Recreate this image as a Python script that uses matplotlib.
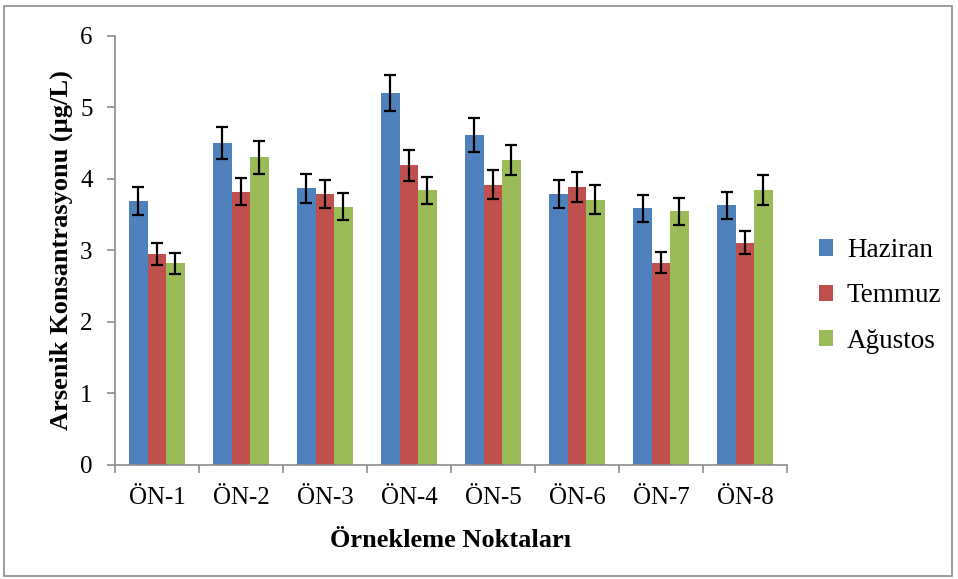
import numpy as np
import matplotlib.pyplot as plt
from matplotlib.patches import Rectangle

# Data
stations = ["ÖN-1", "ÖN-2", "ÖN-3", "ÖN-4", "ÖN-5", "ÖN-6", "ÖN-7", "ÖN-8"]
haziran = [3.69, 4.50, 3.87, 5.20, 4.61, 3.79, 3.59, 3.63]
temmuz = [2.95, 3.82, 3.79, 4.19, 3.92, 3.89, 2.83, 3.11]
agustos = [2.82, 4.30, 3.61, 3.84, 4.26, 3.71, 3.55, 3.84]
haziran_err = [0.19, 0.22, 0.20, 0.25, 0.24, 0.20, 0.19, 0.19]
temmuz_err = [0.15, 0.19, 0.20, 0.22, 0.20, 0.21, 0.15, 0.16]
agustos_err = [0.15, 0.23, 0.19, 0.19, 0.21, 0.20, 0.19, 0.21]

plt.rcParams['font.family'] = ['Liberation Serif', 'DejaVu Serif']

fig = plt.figure(figsize=(9.58, 5.79), dpi=100)
fig.patches.append(Rectangle((0.004, 0.005), 0.99, 0.985, transform=fig.transFigure,
                             fill=False, edgecolor="#8c8c8c", linewidth=1.2))
ax = fig.add_axes([0.12, 0.197, 0.7015, 0.741])

x = np.arange(len(stations))
w = 0.22
series = [
    (haziran, haziran_err, "#4F81BD", "Haziran"),
    (temmuz, temmuz_err, "#C0504D", "Temmuz"),
    (agustos, agustos_err, "#9BBB59", "Ağustos"),
]
for i, (vals, errs, col, name) in enumerate(series):
    ax.bar(x + (i - 1) * w, vals, w, color=col, label=name,
           yerr=errs, capsize=4.5, error_kw=dict(ecolor="black", elinewidth=1.6, capthick=1.6))

ax.set_xlim(-0.5, len(stations) - 0.5)
ax.set_ylim(0, 6)
ax.set_yticks(range(0, 7))
ax.set_xticks(np.arange(-0.5, len(stations), 1.0))
ax.set_xticklabels([])
ax.set_xticks(x, minor=True)
ax.set_xticklabels(stations, minor=True)
ax.tick_params(axis="x", which="major", length=6, width=1.2, color="#8c8c8c")
ax.tick_params(axis="x", which="minor", length=0, labelsize=18, pad=16)
ax.tick_params(axis="y", length=6, width=1.2, color="#8c8c8c", labelsize=18, pad=10)

for s in ["top", "right"]:
    ax.spines[s].set_visible(False)
for s in ["left", "bottom"]:
    ax.spines[s].set_color("#8c8c8c")
    ax.spines[s].set_linewidth(1.2)

ax.set_ylabel("Arsenik Konsantrasyonu (µg/L)", fontsize=19, fontweight="bold", labelpad=5)
ax.set_xlabel("Örnekleme Noktaları", fontsize=19, fontweight="bold", labelpad=14)

fig.legend(*ax.get_legend_handles_labels(), loc="center left", bbox_to_anchor=(0.829, 0.489),
           frameon=False, fontsize=19.5, handlelength=0.55, handleheight=0.55,
           handletextpad=0.5, labelspacing=0.75)

fig.savefig("out.png", dpi=100)
